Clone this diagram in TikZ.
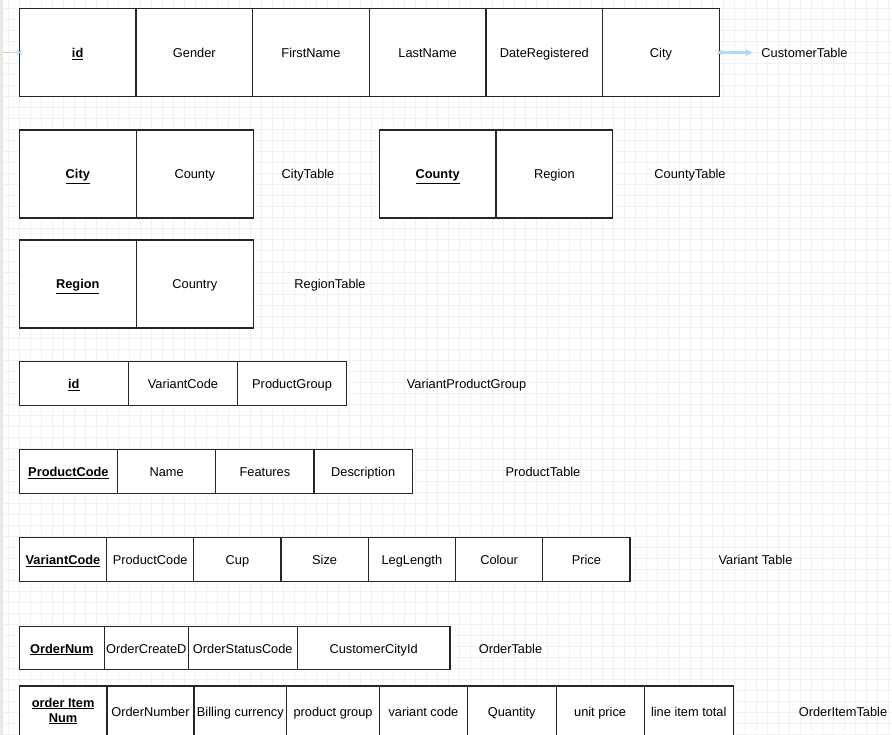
\documentclass[tikz,border=0pt]{standalone}
\usepackage{fontspec}
\setmainfont{Liberation Sans}
\usetikzlibrary{arrows, positioning, calc}
\definecolor{hoverblue}{RGB}{180,215,242}
\definecolor{canvasedge}{RGB}{236,233,226}
\newcommand{\tabfont}{\fontsize{12.8}{15}\selectfont}
\newcommand{\pkey}[1]{\underline{\textbf{#1}}}
\tikzset{
  grd/.style={draw=gray!11, line width=0.4pt},
  cell/.style={draw=black!85, line width=1.2pt, fill=white, inner sep=1pt, outer sep=0pt,
    font=\tabfont, anchor=west, minimum width=#1, text height=12.6pt, text depth=2.6pt},
  tall/.style={minimum height=88pt},
  flat/.style={minimum height=44pt},
  tlab/.style={font=\tabfont, inner sep=1pt, text height=12.6pt, text depth=2.6pt},
  hov/.style={draw=hoverblue, line width=1.3pt}
}
\newcommand{\hovmark}[1]{\draw[hov, line width=0.9pt] ($(#1)+(-2.5,-2.5)$) -- ($(#1)+(2.5,2.5)$) ($(#1)+(-2.5,2.5)$) -- ($(#1)+(2.5,-2.5)$);}

\begin{document}
\begin{tikzpicture}[x=1pt, y=-1pt]
		\useasboundingbox (0,0) rectangle (892,735);
		% canvas
		\fill[white] (0,0) rectangle (892,735);
		\foreach \k in {0,...,80} {\draw[grd] ({8.3+11*\k},0) -- ({8.3+11*\k},735);}
		\foreach \k in {0,...,66} {\draw[grd] (0,{8.3+11*\k}) -- (892,{8.3+11*\k});}
		\fill[canvasedge] (0,0) rectangle (3,735);

		% customer
		\node[cell=116.67pt, minimum height=88.4pt] (cu1) at (19.3,52.5) {\pkey{id}};
		\node[cell=116.67pt, minimum height=88.4pt, right=0pt of cu1] (cu2) {Gender};
		\node[cell=116.67pt, minimum height=88.4pt, right=0pt of cu2] (cu3) {FirstName};
		\node[cell=116.67pt, minimum height=88.4pt, right=0pt of cu3] (cu4) {LastName};
		\node[cell=116.67pt, minimum height=88.4pt, right=0pt of cu4] (cu5) {DateRegistered};
		\node[cell=116.67pt, minimum height=88.4pt, right=0pt of cu5] (cu6) {City};
		\node[tlab] (cuT) at (804.5,52.5) {CustomerTable};
		\coordinate (cuIn) at (3,52.5);
		\draw[hov] (cuIn) -- (cu1.west);
		\draw[hov, line width=2.2pt, ->, >=stealth, shorten >=8pt] (cu6.east) -- (cuT);
		\hovmark{cu1.west}
		\hovmark{cu6.east}

		% city / county
		\node[cell=117pt, tall] (ci1) at (19.3,174) {\pkey{City}};
		\node[cell=117pt, tall, right=0pt of ci1] (ci2) {County};
		\node[tlab] (ciT) at (308,174) {CityTable};
		\node[cell=116.7pt, tall] (co1) at (379.3,174) {\pkey{County}};
		\node[cell=116.7pt, tall, right=0pt of co1] (co2) {Region};
		\node[tlab] (coT) at (690,174) {CountyTable};

		% region
		\node[cell=117pt, tall] (rg1) at (19.3,284) {\pkey{Region}};
		\node[cell=117pt, tall, right=0pt of rg1] (rg2) {Country};
		\node[tlab] (rgT) at (330,284) {RegionTable};

		% variant product group
		\node[cell=109.1pt, flat] (vp1) at (19.3,383.3) {\pkey{id}};
		\node[cell=109.1pt, flat, right=0pt of vp1] (vp2) {VariantCode};
		\node[cell=109.1pt, flat, right=0pt of vp2] (vp3) {ProductGroup};
		\node[tlab] (vpT) at (466.5,383.3) {VariantProductGroup};

		% product
		\node[cell=98.25pt, flat] (pr1) at (19.3,471.7) {\pkey{ProductCode}};
		\node[cell=98.25pt, flat, right=0pt of pr1] (pr2) {Name};
		\node[cell=98.25pt, flat, right=0pt of pr2] (pr3) {Features};
		\node[cell=98.25pt, flat, right=0pt of pr3] (pr4) {Description};
		\node[tlab] (prT) at (543,471.7) {ProductTable};

		% variant
		\node[cell=87.24pt, flat] (va1) at (19.3,559.5) {\pkey{VariantCode}};
		\node[cell=87.24pt, flat, right=0pt of va1] (va2) {ProductCode};
		\node[cell=87.24pt, flat, right=0pt of va2] (va3) {Cup};
		\node[cell=87.24pt, flat, right=0pt of va3] (va4) {Size};
		\node[cell=87.24pt, flat, right=0pt of va4] (va5) {LegLength};
		\node[cell=87.24pt, flat, right=0pt of va5] (va6) {Colour};
		\node[cell=87.24pt, flat, right=0pt of va6] (va7) {Price};
		\node[tlab] (vaT) at (755.5,559.5) {Variant Table};

		% order
		\node[cell=85pt, minimum height=42.6pt] (or1) at (19.3,648) {\pkey{OrderNum}};
		\node[cell=84pt, minimum height=42.6pt, right=0pt of or1] (or2) {OrderCreateD};
		\node[cell=109pt, minimum height=42.6pt, right=0pt of or2] (or3) {OrderStatusCode};
		\node[cell=152.7pt, minimum height=42.6pt, right=0pt of or3] (or4) {CustomerCityId};
		\node[tlab] (orT) at (510.5,648) {OrderTable};

		% order item
		\node[cell=87.7pt, minimum height=50pt, align=center, text height=, text depth=] (oi1) at (19.3,711) {\pkey{order Item}\\\pkey{Num}};
		\node[cell=87pt, minimum height=50pt, right=0pt of oi1] (oi2) {OrderNumber};
		\node[cell=92.7pt, minimum height=50pt, right=0pt of oi2] (oi3) {Billing currency};
		\node[cell=92.7pt, minimum height=50pt, right=0pt of oi3] (oi4) {product group};
		\node[cell=88pt, minimum height=50pt, right=0pt of oi4] (oi5) {variant code};
		\node[cell=88.7pt, minimum height=50pt, right=0pt of oi5] (oi6) {Quantity};
		\node[cell=88pt, minimum height=50pt, right=0pt of oi6] (oi7) {unit price};
		\node[cell=89.3pt, minimum height=50pt, right=0pt of oi7] (oi8) {line item total};
		\node[tlab] (oiT) at (843,711) {OrderItemTable};
	\end{tikzpicture}
\end{document}
